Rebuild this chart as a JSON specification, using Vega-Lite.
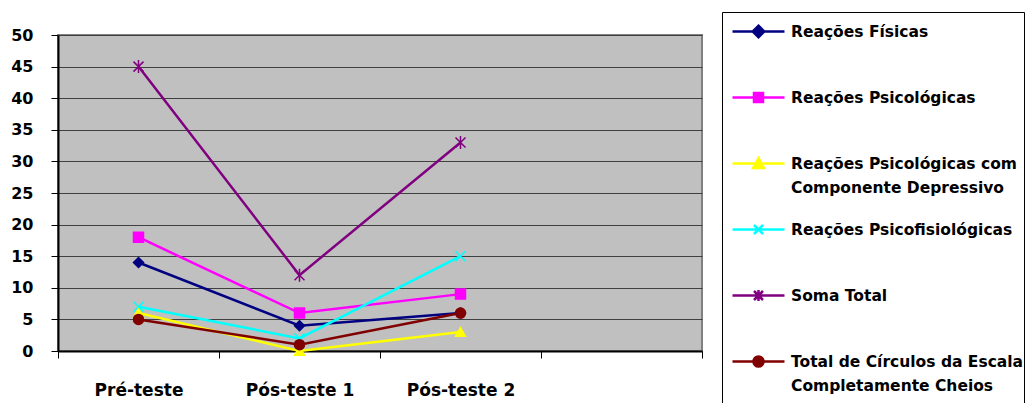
{
  "$schema": "https://vega.github.io/schema/vega-lite/v6.json",
  "width": 644,
  "height": 316,
  "autosize": "none",
  "padding": {"left": 58, "top": 35, "right": 329, "bottom": 52},
  "background": "white",
  "config": {
    "view": {"fill": "#C0C0C0", "stroke": "#808080", "strokeWidth": 2},
    "font": "DejaVu Sans",
    "legend": {
      "orient": "none",
      "legendX": 664,
      "legendY": -23,
      "padding": 0,
      "strokeColor": "#000000",
      "fillColor": "#ffffff",
      "symbolSize": 1296,
      "symbolStrokeWidth": 2.5,
      "symbolOpacity": 1,
      "symbolOffset": 17,
      "labelOffset": 13,
      "labelFont": "DejaVu Sans",
      "labelFontSize": 15.5,
      "labelFontWeight": "bold",
      "labelColor": "#000000",
      "labelLimit": 400,
      "rowPadding": 0
    }
  },
  "data": {
    "values": [
      {"series": "Reações Físicas", "time": "Pré-teste", "value": 14},
      {"series": "Reações Físicas", "time": "Pós-teste 1", "value": 4},
      {"series": "Reações Físicas", "time": "Pós-teste 2", "value": 6},
      {"series": "Reações Psicológicas", "time": "Pré-teste", "value": 18},
      {"series": "Reações Psicológicas", "time": "Pós-teste 1", "value": 6},
      {"series": "Reações Psicológicas", "time": "Pós-teste 2", "value": 9},
      {"series": "Reações Psicológicas com Componente Depressivo", "time": "Pré-teste", "value": 6},
      {"series": "Reações Psicológicas com Componente Depressivo", "time": "Pós-teste 1", "value": 0},
      {"series": "Reações Psicológicas com Componente Depressivo", "time": "Pós-teste 2", "value": 3},
      {"series": "Reações Psicofisiológicas", "time": "Pré-teste", "value": 7},
      {"series": "Reações Psicofisiológicas", "time": "Pós-teste 1", "value": 2},
      {"series": "Reações Psicofisiológicas", "time": "Pós-teste 2", "value": 15},
      {"series": "Soma Total", "time": "Pré-teste", "value": 45},
      {"series": "Soma Total", "time": "Pós-teste 1", "value": 12},
      {"series": "Soma Total", "time": "Pós-teste 2", "value": 33},
      {"series": "Total de Círculos da Escala Completamente Cheios", "time": "Pré-teste", "value": 5},
      {"series": "Total de Círculos da Escala Completamente Cheios", "time": "Pós-teste 1", "value": 1},
      {"series": "Total de Círculos da Escala Completamente Cheios", "time": "Pós-teste 2", "value": 6}
    ]
  },
  "encoding": {
    "x": {
      "field": "time",
      "type": "nominal",
      "sort": null,
      "bandPosition": 0.5,
      "scale": {"type": "band", "domain": ["Pré-teste", "Pós-teste 1", "Pós-teste 2", " "], "paddingInner": 0, "paddingOuter": 0},
      "axis": {
        "title": null,
        "labelAngle": 0,
        "labelFont": "DejaVu Sans",
        "labelFontSize": 17,
        "labelFontWeight": "bold",
        "labelColor": "#000000",
        "labelPadding": 24,
        "tickBand": "extent",
        "tickSize": 7,
        "tickColor": "#000000",
        "domainColor": "#000000",
        "domainWidth": 2,
        "grid": false
      }
    },
    "y": {
      "field": "value",
      "type": "quantitative",
      "scale": {"domain": [0, 50], "nice": false},
      "axis": {
        "title": null,
        "values": [0, 5, 10, 15, 20, 25, 30, 35, 40, 45, 50],
        "labelFont": "DejaVu Sans",
        "labelFontSize": 16,
        "labelFontWeight": "bold",
        "labelColor": "#000000",
        "labelPadding": 18,
        "tickSize": 7,
        "tickColor": "#000000",
        "domainColor": "#000000",
        "domainWidth": 2,
        "gridColor": "#404040",
        "gridWidth": 1
      }
    }
  },
  "layer": [
    {
      "mark": {"type": "line", "strokeWidth": 2.5},
      "encoding": {
        "color": {
          "field": "series",
          "type": "nominal",
          "scale": {
            "domain": ["Reações Físicas", "Reações Psicológicas", "Reações Psicológicas com Componente Depressivo", "Reações Psicofisiológicas", "Soma Total", "Total de Círculos da Escala Completamente Cheios"],
            "range": ["#000080", "#FF00FF", "#FFFF00", "#00FFFF", "#800080", "#800000"]
          },
          "legend": null
        }
      }
    },
    {
      "mark": {"type": "point", "filled": true, "size": 100, "strokeWidth": 1.5, "opacity": 1},
      "encoding": {
        "color": {"field": "series", "type": "nominal", "legend": null},
        "stroke": {
          "field": "series",
          "type": "nominal",
          "scale": {
            "domain": ["Reações Físicas", "Reações Psicológicas", "Reações Psicológicas com Componente Depressivo", "Reações Psicofisiológicas", "Soma Total", "Total de Círculos da Escala Completamente Cheios"],
            "range": ["#000080", "#FF00FF", "#FFFF00", "#00FFFF", "#800080", "#800000"]
          },
          "legend": null
        },
        "shape": {
          "field": "series",
          "type": "nominal",
          "scale": {
            "domain": ["Reações Físicas", "Reações Psicológicas", "Reações Psicológicas com Componente Depressivo", "Reações Psicofisiológicas", "Soma Total", "Total de Círculos da Escala Completamente Cheios"],
            "range": ["diamond", "square", "triangle-up", "M-1,-1L1,1M-1,1L1,-1", "M-1,-1L1,1M-1,1L1,-1M0,-1.3V1.3", "circle"]
          },
          "legend": null
        }
      }
    },
    {
      "transform": [{"filter": "false"}],
      "mark": {"type": "point", "filled": true, "opacity": 1},
      "encoding": {
        "fill": {
          "field": "series",
          "type": "nominal",
          "scale": {
            "domain": ["Reações Físicas", "Reações Psicológicas", "Reações Psicológicas com Componente Depressivo", "Reações Psicofisiológicas", "Soma Total", "Total de Círculos da Escala Completamente Cheios"],
            "range": ["#000080", "#FF00FF", "#FFFF00", "#00FFFF", "#800080", "#800000"]
          },
          "legend": {
            "title": null,
            "labelExpr": "datum.label == 'Reações Psicológicas com Componente Depressivo' ? ['Reações Psicológicas com', 'Componente Depressivo'] : datum.label == 'Total de Círculos da Escala Completamente Cheios' ? ['Total de Círculos da Escala    ', 'Completamente Cheios'] : datum.label",
            "encode": {"labels": {"update": {"lineHeight": {"value": 24}}}}
          }
        },
        "stroke": {
          "field": "series",
          "type": "nominal",
          "scale": {
            "domain": ["Reações Físicas", "Reações Psicológicas", "Reações Psicológicas com Componente Depressivo", "Reações Psicofisiológicas", "Soma Total", "Total de Círculos da Escala Completamente Cheios"],
            "range": ["#000080", "#FF00FF", "#FFFF00", "#00FFFF", "#800080", "#800000"]
          },
          "legend": {
            "title": null,
            "labelExpr": "datum.label == 'Reações Psicológicas com Componente Depressivo' ? ['Reações Psicológicas com', 'Componente Depressivo'] : datum.label == 'Total de Círculos da Escala Completamente Cheios' ? ['Total de Círculos da Escala    ', 'Completamente Cheios'] : datum.label",
            "encode": {"labels": {"update": {"lineHeight": {"value": 24}}}}
          }
        },
        "shape": {
          "field": "series",
          "type": "nominal",
          "scale": {
            "domain": ["Reações Físicas", "Reações Psicológicas", "Reações Psicológicas com Componente Depressivo", "Reações Psicofisiológicas", "Soma Total", "Total de Círculos da Escala Completamente Cheios"],
            "range": [
              "M0,-0.78M0,2.3M-1.444,0L1.444,0M0,-0.32L0.32,0L0,0.32L-0.32,0Z",
              "M0,-0.78M0,2.3M-1.444,0L1.444,0M-0.25,-0.25H0.25V0.25H-0.25Z",
              "M0,-0.78M0,2.3M-1.444,0L1.444,0M0,-0.3L0.3,0.25H-0.3Z",
              "M0,-0.78M0,2.3M-1.444,0L1.444,0M-0.25,-0.25L0.25,0.25M-0.25,0.25L0.25,-0.25",
              "M0,-0.78M0,2.3M-1.444,0L1.444,0M-0.25,-0.25L0.25,0.25M-0.25,0.25L0.25,-0.25M0,-0.31V0.31",
              "M0,-0.78M0,2.3M-1.444,0L1.444,0M-0.28,0A0.28,0.28,0,1,0,0.28,0A0.28,0.28,0,1,0,-0.28,0Z"
            ]
          },
          "legend": {
            "title": null,
            "labelExpr": "datum.label == 'Reações Psicológicas com Componente Depressivo' ? ['Reações Psicológicas com', 'Componente Depressivo'] : datum.label == 'Total de Círculos da Escala Completamente Cheios' ? ['Total de Círculos da Escala    ', 'Completamente Cheios'] : datum.label",
            "encode": {"labels": {"update": {"lineHeight": {"value": 24}}}}
          }
        }
      }
    }
  ],
  "resolve": {"scale": {"shape": "independent", "stroke": "independent", "fill": "independent"}}
}
